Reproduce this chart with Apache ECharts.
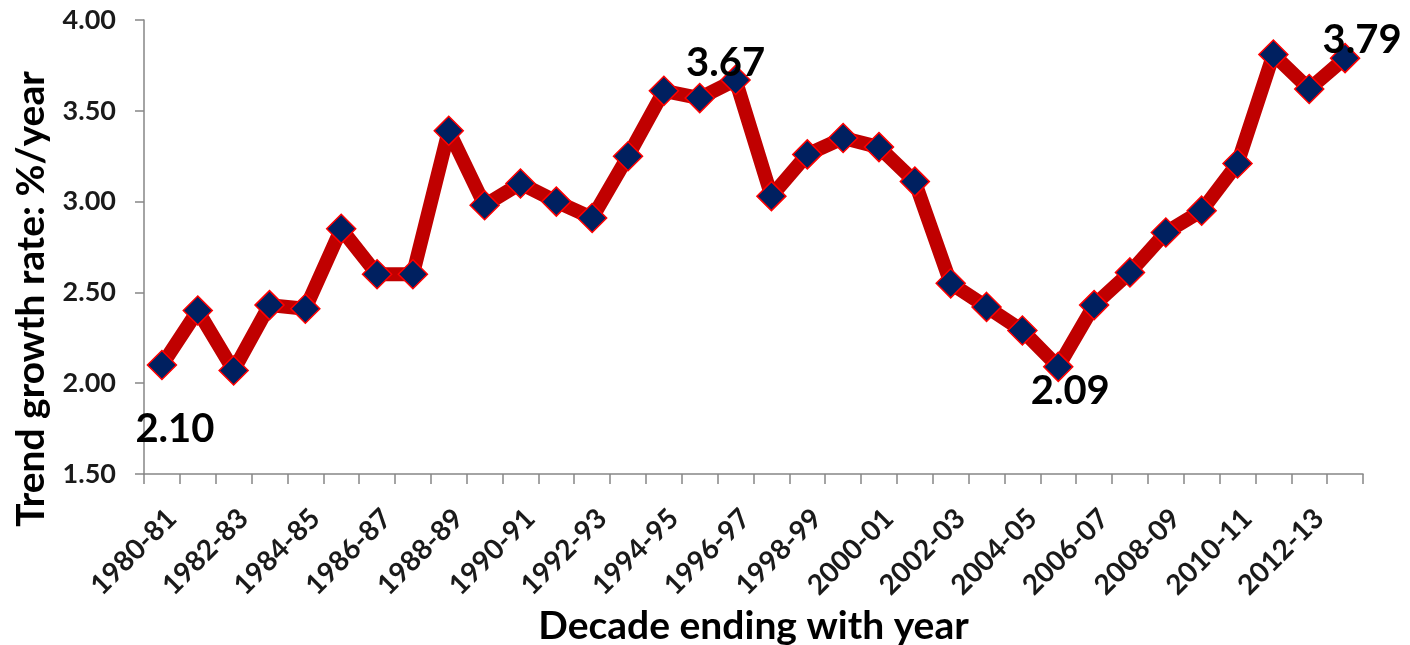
<!DOCTYPE html>
<html>
<head>
<meta charset="utf-8">
<script src="https://cdn.jsdelivr.net/npm/echarts@6/dist/echarts.min.js"></script>
<style>
  html, body { margin: 0; padding: 0; background: #fff; overflow: hidden; }
  #chart { width: 1410px; height: 645px; }
</style>
</head>
<body>
<div id="chart"></div>
<script>
// decade ending with year
var years = [
  "1980-81","1981-82","1982-83","1983-84","1984-85","1985-86","1986-87","1987-88",
  "1988-89","1989-90","1990-91","1991-92","1992-93","1993-94","1994-95","1995-96",
  "1996-97","1997-98","1998-99","1999-00","2000-01","2001-02","2002-03","2003-04",
  "2004-05","2005-06","2006-07","2007-08","2008-09","2009-10","2010-11","2011-12",
  "2012-13","2013-14"
];
// trend growth rate %/year
var growth = [
  2.10, 2.40, 2.07, 2.43, 2.41, 2.85, 2.60, 2.60,
  3.39, 2.98, 3.10, 3.00, 2.91, 3.25, 3.61, 3.57,
  3.67, 3.03, 3.26, 3.35, 3.30, 3.11, 2.55, 2.42,
  2.29, 2.09, 2.43, 2.61, 2.83, 2.95, 3.21, 3.81,
  3.62, 3.79
];
var yTicks = [1.5, 2.0, 2.5, 3.0, 3.5, 4.0];

// which points get a value label, and where it sits
var labelled = { 0: [13, 64], 16: [-10, -17], 25: [12, 24], 33: [17, -18] };

var font = "Lato, 'Open Sans', sans-serif";

var seriesData = growth.map(function (v, i) {
  var item = { value: v };
  if (labelled[i]) {
    item.label = {
      show: true,
      position: "inside",
      offset: labelled[i],
      formatter: v.toFixed(2),
      fontSize: 40,
      fontWeight: "bold",
      fontFamily: font,
      color: "#000"
    };
  }
  return item;
});

var myChart = echarts.init(document.getElementById("chart"));
var option = {
  animation: false,
  grid: { left: 144, right: 47, top: 20, bottom: 171, containLabel: false, outerBoundsMode: "none" },
  xAxis: {
    type: "category",
    data: years,
    boundaryGap: true,
    name: "Decade ending with year",
    nameLocation: "middle",
    nameGap: 128,
    nameTextStyle: { fontSize: 39, fontWeight: "bold", fontFamily: font, color: "#000" },
    axisLine: { lineStyle: { color: "#868686", width: 1.5 } },
    axisTick: { show: true, interval: 0, length: 10, lineStyle: { color: "#868686", width: 1.5 } },
    axisLabel: {
      interval: 1,
      rotate: 45,
      margin: 30,
      verticalAlign: "top",
      fontSize: 28,
      fontFamily: font,
      fontWeight: "bold",
      color: "#1a1a1a"
    }
  },
  yAxis: {
    type: "value",
    min: yTicks[0],
    max: yTicks[yTicks.length - 1],
    interval: 0.5,
    name: "Trend growth rate: %/year",
    nameLocation: "middle",
    nameGap: 93,
    nameTextStyle: {
      fontSize: 39, fontWeight: "bold", fontFamily: font, color: "#000",
      padding: [0, 104, 0, 0]
    },
    splitLine: { show: false },
    axisLine: { show: true, lineStyle: { color: "#868686", width: 1.5 } },
    axisTick: { show: true, length: 9, lineStyle: { color: "#868686", width: 1.5 } },
    axisLabel: {
      margin: 28,
      fontSize: 27,
      fontFamily: font,
      fontWeight: "bold",
      color: "#1a1a1a",
      formatter: function (v) { return v.toFixed(2); }
    }
  },
  series: [{
    type: "line",
    data: seriesData,
    symbol: "diamond",
    symbolSize: 29,
    showAllSymbol: true,
    lineStyle: { color: "#C00000", width: 14, join: "round" },
    itemStyle: { color: "#002060", borderColor: "#FF0000", borderWidth: 1.5 },
    z: 3
  }]
};
myChart.setOption(option);
window.addEventListener("resize", function () { myChart.resize(); });
</script>
</body>
</html>
